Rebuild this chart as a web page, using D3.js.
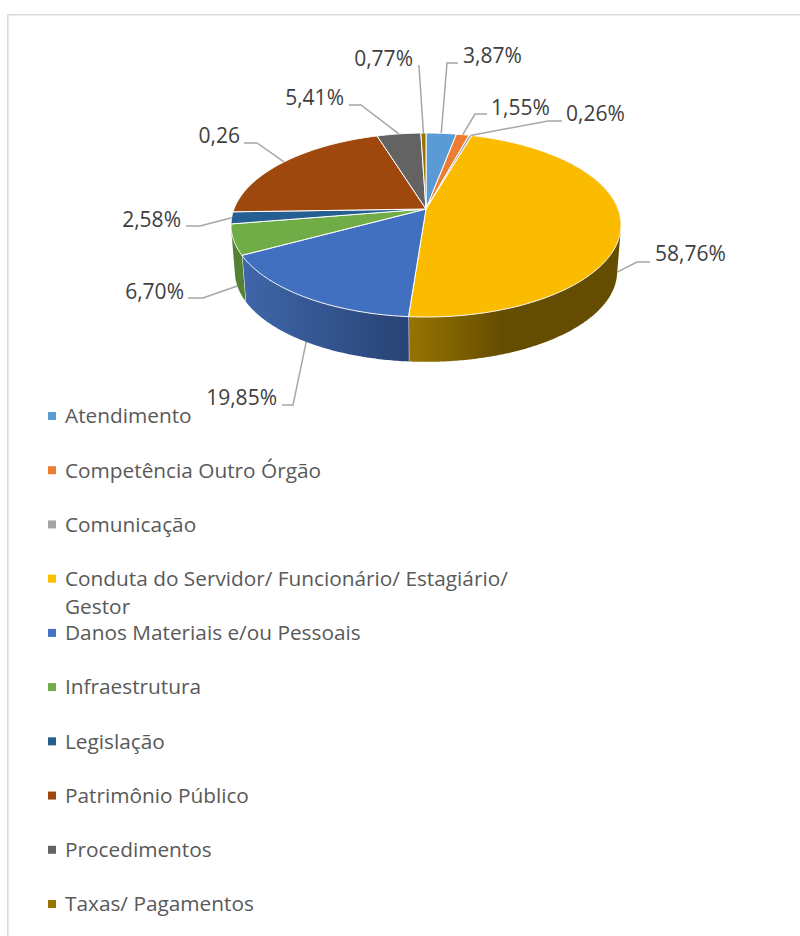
<!DOCTYPE html>
<html><head><meta charset="utf-8">
<script src="https://cdn.jsdelivr.net/npm/d3@7/dist/d3.min.js"></script>
<style>html,body{margin:0;padding:0;background:#fff}svg{display:block}</style>
</head><body><svg id="c" width="800" height="936"></svg>
<script>
// categories, drawn slice shares, printed labels
const categories = ["Atendimento","Competência Outro Órgão","Comunicação","Conduta do Servidor/ Funcionário/ Estagiário/ Gestor","Danos Materiais e/ou Pessoais","Infraestrutura","Legislação","Patrimônio Público","Procedimentos","Taxas/ Pagamentos"];
const sliceShares = [2.97,1.25,0.28,46.7,15.9,5.3,2.1,20.7,4.3,0.5];
const printedLabels = ["3,87%","1,55%","0,26%","58,76%","19,85%","6,70%","2,58%","0,26","5,41%","0,77%"];
const legendLines = [["Atendimento"],["Competência Outro Órgão"],["Comunicação"],["Conduta do Servidor/ Funcionário/ Estagiário/","Gestor"],["Danos Materiais e/ou Pessoais"],["Infraestrutura"],["Legislação"],["Patrimônio Público"],["Procedimentos"],["Taxas/ Pagamentos"]];
const topColors = ["#5B9BD5","#ED7D31","#A5A5A5","#FBBC00","#4170C0","#70AD47","#255E91","#9E480E","#636363","#997300"];
const legendColors = ["#5B9BD5","#ED7D31","#A5A5A5","#FFC000","#4472C4","#70AD47","#255E91","#9E480E","#636363","#997300"];

// label layout: elbow point, line end, text anchor point and side
const labelLayout = [
 {elbow:[447,63], end:[458,63], text:[463,56], anchor:"start"},
 {elbow:[475,114],end:[487,114],text:[491,108],anchor:"start"},
 {elbow:[548,121],end:[562,121],text:[566,114],anchor:"start"},
 {elbow:[637,262],end:[650,262],text:[655,254],anchor:"start"},
 {elbow:[293,405],end:[282,405],text:[277,398],anchor:"end"},
 {elbow:[203,298],end:[188,298],text:[184,292],anchor:"end"},
 {elbow:[200,226],end:[186,226],text:[181,220],anchor:"end"},
 {elbow:[257,143],end:[244,143],text:[240,136],anchor:"end"},
 {elbow:[361,105],end:[349,105],text:[344,98], anchor:"end"},
 {elbow:[419,66], end:[418,66], text:[413,59], anchor:"end"}
];

const FONT = "'Open Sans'";
const svg = d3.select("#c");
const defs = svg.append("defs");

// chart frame
svg.append("path").attr("d","M800,14.7H7.8V936").attr("fill","none").attr("stroke","#d9d9d9").attr("stroke-width",1.5);

// perspective projection of the disc
const hub = {x:426, y:209}, farR = 76, nearR = 108, k = (nearR-farR)/(nearR+farR), A = nearR*(1-k), B = 195*Math.sqrt(1-k*k);
const lower = {y:256, s:0.98};
const project = (a, level) => {
  const u = Math.sin(a), v = -Math.cos(a), w = 1-k*v;
  return level ? [hub.x + lower.s*B*u/w, lower.y + lower.s*A*v/w] : [hub.x + B*u/w, hub.y + A*v/w];
};
const pie = d3.pie().sort(null).value(d=>d)(sliceShares);
const line = d3.line();
const sample = (a0,a1) => { const n = Math.max(2,Math.ceil(Math.abs(a1-a0)/0.01)); return d3.range(n+1).map(i=>a0+(a1-a0)*i/n); };

// walls: hull of the rim arcs, so the side silhouette runs tangent to both rims
const visLo = 50*Math.PI/180, visHi = 300*Math.PI/180;
const wallFill = {
 3:{x1:408,x2:505,stops:["#977400","#644C00"],edge:true},
 4:{x1:246,x2:408,stops:["#3F66A8","#284376"],edge:true},
 5:{x1:233,x2:246,stops:["#548235","#548235"],edge:false}
};
Object.entries(wallFill).forEach(([i,f])=>{
  const g = defs.append("linearGradient").attr("id","w"+i).attr("gradientUnits","userSpaceOnUse")
    .attr("x1",f.x1).attr("x2",f.x2).attr("y1",0).attr("y2",0);
  g.append("stop").attr("offset",0).attr("stop-color",f.stops[0]);
  g.append("stop").attr("offset",1).attr("stop-color",f.stops[1]);
});
pie.forEach((d,i)=>{
  const a0 = Math.max(d.startAngle,visLo), a1 = Math.min(d.endAngle,visHi);
  if(a1<=a0 || !wallFill[i]) return;
  const ang = sample(a0,a1);
  const pts = d3.polygonHull(ang.map(a=>project(a,0)).concat(ang.map(a=>project(a,1))));
  svg.append("path").attr("d",line(pts)+"Z").attr("fill","url(#w"+i+")");
  if(wallFill[i].edge) svg.append("path").attr("d",line([project(d.endAngle,0),project(d.endAngle,1)])).attr("stroke","#fff").attr("stroke-width",1).attr("fill","none");
});

// top faces
pie.forEach((d,i)=>{
  const pts = [[hub.x,hub.y]].concat(sample(d.startAngle,d.endAngle).map(a=>project(a,0)));
  svg.append("path").attr("d",line(pts)+"Z").attr("fill",topColors[i])
    .attr("stroke","#fff").attr("stroke-width",1).attr("stroke-linejoin","round");
});

// leaders and labels
pie.forEach((d,i)=>{
  const mid = (d.startAngle+d.endAngle)/2, L = labelLayout[i];
  const onWall = wallFill[i]!==undefined;
  const p0 = project(mid, onWall?1:0);
  svg.append("path").attr("d",line([p0,L.elbow,L.end])).attr("fill","none").attr("stroke","#a6a6a6").attr("stroke-width",1.5);
  svg.append("text").attr("x",L.text[0]).attr("y",L.text[1]).attr("dy","0.35em")
    .attr("text-anchor",L.anchor).attr("font-family",FONT).attr("font-size",21).attr("fill","#404040").text(printedLabels[i]);
});

// legend
const yLegend = d3.scalePoint().domain(categories).range([416,904]);
const lg = svg.selectAll("g.lg").data(categories).join("g").attr("class","lg");
lg.append("rect").attr("x",48).attr("width",8).attr("height",8).attr("y",d=>yLegend(d)-4).attr("fill",(d,i)=>legendColors[i]);
lg.each(function(d,i){
  legendLines[i].forEach((t,j)=>{
    d3.select(this).append("text").attr("x",65).attr("y",yLegend(d)+j*28.5).attr("dy","0.35em")
      .attr("font-family",FONT).attr("font-size",20.8).attr("fill","#595959").text(t);
  });
});
</script></body></html>
